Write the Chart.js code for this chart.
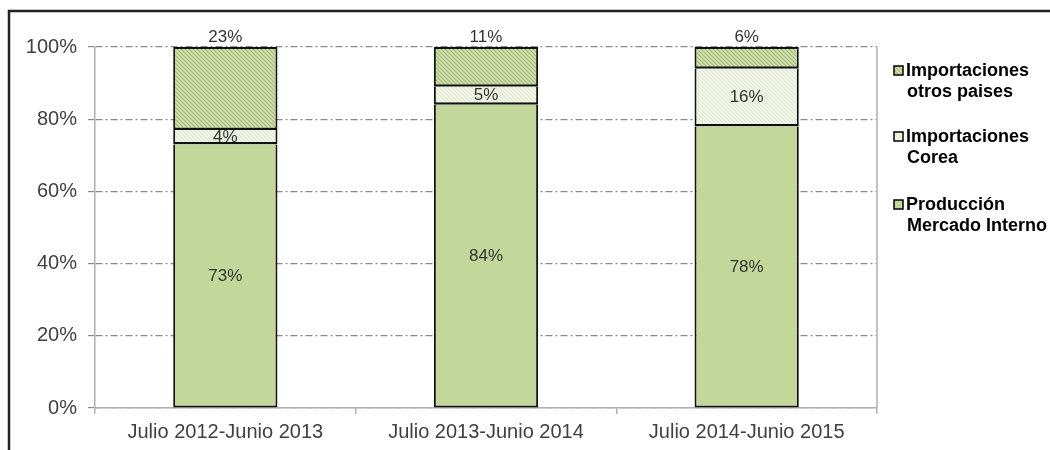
<!DOCTYPE html>
<html>
<head>
<meta charset="utf-8">
<script src="https://cdn.jsdelivr.net/npm/chart.js@4"></script>
<style>
  html, body { margin: 0; padding: 0; background: #fff; }
  #wrap { width: 1050px; height: 450px; position: relative; }
</style>
</head>
<body>
<div id="wrap"><canvas id="grafico" width="1050" height="450"></canvas></div>
<script>
// periodos y participacion (%) de cada origen
const periodos = ["Julio 2012-Junio 2013", "Julio 2013-Junio 2014", "Julio 2014-Junio 2015"];
const produccionMercadoInterno = [73, 84, 78];
const importacionesCorea = [4, 5, 16];
const importacionesOtros = [23, 11, 6];
const ticksY = [0, 20, 40, 60, 80, 100];

const nombresSeries = [
    ["Producción", "Mercado Interno"],
    ["Importaciones", "Corea"],
    ["Importaciones", "otros paises"]
];

function crearTrama(fondo, linea, paso) {
    var c = document.createElement('canvas');
    c.width = paso; c.height = paso;
    var g = c.getContext('2d');
    g.fillStyle = fondo;
    g.fillRect(0, 0, paso, paso);
    g.strokeStyle = linea;
    g.lineWidth = 1.2;
    g.beginPath();
    g.moveTo(-1, -1); g.lineTo(paso + 1, paso + 1);
    g.moveTo(-1, paso - 1); g.lineTo(1, paso + 1);
    g.moveTo(paso - 1, -1); g.lineTo(paso + 1, 1);
    g.stroke();
    return g.createPattern(c, 'repeat');
}

const ctx = document.getElementById('grafico').getContext('2d');
const colorVerde = "#c4d79b";
const tramaCorea = crearTrama("#f3f6ea", "#e2e9cf", 4);
const tramaOtros = crearTrama("#d3e0b2", "#a3ba74", 4);
const coloresLeyenda = [colorVerde, tramaCorea, tramaOtros];

// etiquetas de datos, marco y leyenda dibujadas a mano
const extras = {
    id: 'extras',
    beforeDraw(chart) {
        var c = chart.ctx;
        c.save();
        c.strokeStyle = "#222";
        c.lineWidth = 2.5;
        c.strokeRect(9, 11, 1200, 600);
        c.restore();
    },
    beforeDatasetsDraw(chart) {
        var a = chart.chartArea;
        var c = chart.ctx;
        c.save();
        c.strokeStyle = "#b0b0b0";
        c.lineWidth = 1.5;
        c.beginPath();
        c.moveTo(a.right, a.top);
        c.lineTo(a.right, a.bottom);
        c.stroke();
        c.restore();
    },
    afterDraw(chart) {
        var c = chart.ctx;
        c.save();
        c.font = "17px 'Liberation Sans', Arial, sans-serif";
        c.fillStyle = "#333";
        c.textAlign = "center";
        c.textBaseline = "middle";
        chart.data.datasets.forEach(function (ds, i) {
            var meta = chart.getDatasetMeta(i);
            meta.data.forEach(function (bar, j) {
                var y = (bar.y + bar.base) / 2;
                if (i === 2) y = bar.y - 10;
                c.fillText(ds.data[j] + "%", bar.x, y);
            });
        });

        // leyenda
        c.font = "bold 18px 'Liberation Sans', Arial, sans-serif";
        c.textAlign = "left";
        var filas = [205, 137, 71];
        for (var i = 2; i >= 0; i--) {
            var y0 = filas[i];
            c.fillStyle = coloresLeyenda[i];
            c.fillRect(894, y0 - 5, 9, 9);
            c.strokeStyle = "#000";
            c.lineWidth = 1.5;
            c.strokeRect(894, y0 - 5, 9, 9);
            c.fillStyle = "#000";
            c.fillText(nombresSeries[i][0], 906, y0);
            c.fillText(nombresSeries[i][1], 907, y0 + 21);
        }
        c.restore();
    }
};

new Chart(ctx, {
    type: 'bar',
    data: {
        labels: periodos,
        datasets: [
            { label: "Producción Mercado Interno", data: produccionMercadoInterno, backgroundColor: colorVerde,
              borderWidth: { left: 2, right: 2, top: 0, bottom: 2 } },
            { label: "Importaciones Corea", data: importacionesCorea, backgroundColor: tramaCorea,
              borderWidth: { left: 2, right: 2, top: 0, bottom: 2.5 } },
            { label: "Importaciones otros paises", data: importacionesOtros, backgroundColor: tramaOtros,
              borderWidth: { left: 2, right: 2, top: 2, bottom: 2.5 } }
        ]
    },
    options: {
        responsive: false,
        animation: false,
        events: [],
        layout: { padding: { left: 0, top: 47, right: 173, bottom: 0 } },
        datasets: {
            bar: {
                borderColor: "#111",
                borderSkipped: false,
                categoryPercentage: 1,
                barPercentage: 0.4
            }
        },
        plugins: {
            legend: { display: false },
            tooltip: { enabled: false },
            title: { display: false }
        },
        scales: {
            x: {
                stacked: true,
                offset: true,
                grid: {
                    offset: true,
                    drawOnChartArea: false,
                    tickColor: "#b0b0b0",
                    tickLength: 6,
                    lineWidth: 1.5
                },
                border: { color: "#b0b0b0", width: 1.5 },
                ticks: {
                    color: "#404040",
                    padding: 6,
                    maxRotation: 0,
                    font: { family: "'Liberation Sans', Arial, sans-serif", size: 20 }
                },
                afterFit: function (s) { s.height = 42; }
            },
            y: {
                stacked: true,
                min: 0,
                max: 100,
                afterBuildTicks: function (s) { s.ticks = ticksY.map(function (v) { return { value: v }; }); },
                grid: {
                    color: "#8a8a8a",
                    tickColor: "#8a8a8a",
                    tickLength: 7,
                    lineWidth: 1.2
                },
                border: { color: "#b0b0b0", width: 1.5, dash: [7, 3, 2, 3] },
                ticks: {
                    color: "#404040",
                    padding: 11,
                    callback: function (v) { return v + "%"; },
                    font: { family: "'Liberation Sans', Arial, sans-serif", size: 20 }
                },
                afterFit: function (s) { s.width = 95; }
            }
        }
    },
    plugins: [extras]
});
</script>
</body>
</html>
